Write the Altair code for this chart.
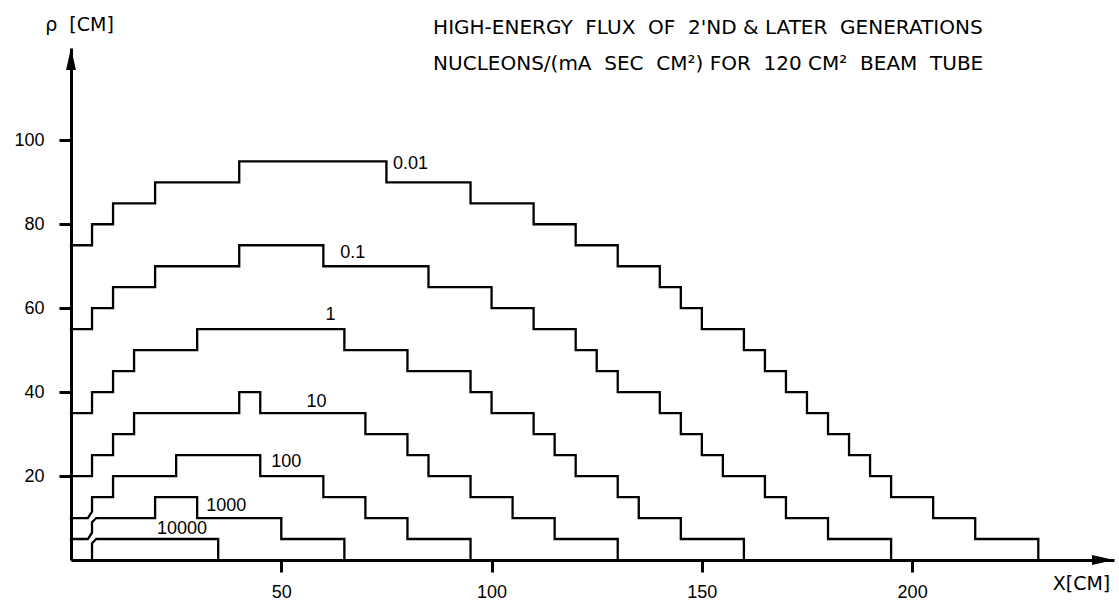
import altair as alt
import pandas as pd

# ---- data (x in cm, rho in cm) ----
curve_names = ["0.01", "0.1", "1", "10", "100", "1000", "10000"]

edges_001 = [0, 5, 10, 20, 40, 75, 95, 110, 120, 130, 140, 145, 150, 160, 165, 170, 175, 180, 185, 190, 195, 205, 215, 230]
levels_001 = [75, 80, 85, 90, 95, 90, 85, 80, 75, 70, 65, 60, 55, 50, 45, 40, 35, 30, 25, 20, 15, 10, 5]

edges_01 = [0, 5, 10, 20, 40, 60, 85, 100, 110, 120, 125, 130, 140, 145, 150, 155, 165, 170, 180, 195]
levels_01 = [55, 60, 65, 70, 75, 70, 65, 60, 55, 50, 45, 40, 35, 30, 25, 20, 15, 10, 5]

edges_1 = [0, 5, 10, 15, 30, 65, 80, 95, 100, 110, 115, 120, 130, 135, 145, 160]
levels_1 = [35, 40, 45, 50, 55, 50, 45, 40, 35, 30, 25, 20, 15, 10, 5]

edges_10 = [0, 5, 10, 15, 40, 45, 70, 80, 85, 95, 105, 115, 130]
levels_10 = [20, 25, 30, 35, 40, 35, 30, 25, 20, 15, 10, 5]

edges_100 = [0, 5, 10, 25, 45, 60, 70, 80, 95]
levels_100 = [10, 15, 20, 25, 20, 15, 10, 5]

edges_1000 = [0, 5, 20, 30, 50, 65]
levels_1000 = [5, 10, 15, 10, 5]

edges_10000 = [5, 35]
levels_10000 = [5]

all_edges = [edges_001, edges_01, edges_1, edges_10, edges_100, edges_1000, edges_10000]
all_levels = [levels_001, levels_01, levels_1, levels_10, levels_100, levels_1000, levels_10000]

# small cut corners drawn at the first rise of the three lowest contours
cut_low = [False, False, False, False, True, True, False]
cut_high = [False, False, False, False, False, True, True]

label_x = [80.7, 67.0, 61.7, 58.4, 51.2, 36.9, 26.4]
label_y = [94.3, 73.1, 58.3, 37.6, 23.3, 12.9, 7.4]

x_ticks = [50, 100, 150, 200]
y_ticks = [20, 40, 60, 80, 100]
x_max = 248
y_max = 122

NB = "\u00a0"
title_lines = [
    f"HIGH-ENERGY{NB} FLUX{NB} OF{NB} 2'ND & LATER{NB} GENERATIONS",
    f"NUCLEONS/(mA{NB} SEC{NB} CM\u00b2) FOR{NB} 120 CM\u00b2{NB} BEAM{NB} TUBE",
]
title_x = [86.1, 86.1]
title_y = [125.3, 116.8]


def vertices(edges, levels, lo, hi):
    pts = []
    if edges[0] > 0:
        pts.append((edges[0], 0))
    for i, lv in enumerate(levels):
        pts.append((edges[i], lv))
        pts.append((edges[i + 1], lv))
    pts.append((edges[-1], 0))
    clean = [pts[0]]
    for p in pts[1:]:
        if p != clean[-1]:
            clean.append(p)
    pts = clean
    for k in range(len(pts) - 1):
        if pts[k][0] == pts[k + 1][0] and pts[k + 1][1] > pts[k][1]:
            xk, y0 = pts[k]
            y1 = pts[k + 1][1]
            new = []
            if lo:
                new += [(xk - 1, y0), (xk, y0 + 1.5)]
            else:
                new += [(xk, y0)]
            if hi:
                new += [(xk, y1 - 1), (xk + 1, y1)]
            else:
                new += [(xk, y1)]
            pts = pts[:k] + new + pts[k + 2:]
            break
    return pts


rows = []
for name, e, l, lo, hi in zip(curve_names, all_edges, all_levels, cut_low, cut_high):
    for j, (x, y) in enumerate(vertices(e, l, lo, hi)):
        rows.append({"curve": name, "order": j, "x": x, "y": y})
lines_df = pd.DataFrame(rows)

labels_df = pd.DataFrame({"text": curve_names, "x": label_x, "y": label_y})
title_df = pd.DataFrame({"text": title_lines, "x": title_x, "y": title_y})

W = 1043
H = 512
px_x = W / x_max
px_y = H / y_max
arrow_half = 11  # pixels
yarrow_df = pd.DataFrame({"x": [0], "y": [y_max - arrow_half / px_y]})
xarrow_df = pd.DataFrame({"x": [x_max - arrow_half / px_x], "y": [0]})

FONT = "Liberation Sans"
TFONT = "DejaVu Sans"

xscale = alt.Scale(domain=[0, x_max], nice=False, zero=False)
yscale = alt.Scale(domain=[0, y_max], nice=False, zero=False)

xaxis = alt.Axis(
    values=x_ticks, title="X[CM]", titleX=1010, titleY=23, titleAngle=0,
    titleAlign="center", titleBaseline="middle", titleFont=TFONT, titleFontSize=19,
    titleFontWeight="normal", titleColor="black",
    labelFont=FONT, labelFontSize=18, labelColor="black", labelPadding=11,
    labelFlush=False, labelOverlap=False,
    tickSize=12, tickWidth=3, tickColor="black",
    domainWidth=3, domainColor="black", grid=False,
)
yaxis = alt.Axis(
    values=y_ticks, title=f"\u03c1{NB} [CM]", titleX=8, titleY=-24, titleAngle=0,
    titleAlign="center", titleBaseline="middle", titleFont=TFONT, titleFontSize=19,
    titleFontWeight="normal", titleColor="black",
    labelFont=FONT, labelFontSize=18, labelColor="black", labelPadding=15,
    labelFlush=False, labelOverlap=False,
    tickSize=12, tickWidth=3, tickColor="black",
    domainWidth=3, domainColor="black", grid=False,
)

X = alt.X("x:Q", scale=xscale, axis=xaxis)
Y = alt.Y("y:Q", scale=yscale, axis=yaxis)

lines = alt.Chart(lines_df).mark_line(
    color="black", strokeWidth=2.3, strokeJoin="miter", strokeCap="square"
).encode(x=X, y=Y, detail="curve:N", order="order:Q")

labels = alt.Chart(labels_df).mark_text(
    font=FONT, fontSize=18, color="black", align="center", baseline="middle"
).encode(x=X, y=Y, text="text:N")

titles = alt.Chart(title_df).mark_text(
    font=TFONT, fontSize=20, color="black", align="left", baseline="alphabetic"
).encode(x=X, y=Y, text="text:N")

yarrow = alt.Chart(yarrow_df).mark_point(
    shape="M0,-1L0.45,1L-0.45,1Z", size=484, filled=True, color="black", opacity=1
).encode(x=X, y=Y)
xarrow = alt.Chart(xarrow_df).mark_point(
    shape="M1,0L-1,-0.45L-1,0.45Z", size=484, filled=True, color="black", opacity=1
).encode(x=X, y=Y)

chart = alt.layer(lines, labels, titles, yarrow, xarrow).properties(
    width=W, height=H,
    autosize=alt.AutoSizeParams(type="none"),
    padding={"left": 71, "top": 48, "right": 5, "bottom": 40},
    background="white",
).configure_view(stroke=None)

chart.save("out.html", embed_options={"renderer": "svg", "actions": False})
